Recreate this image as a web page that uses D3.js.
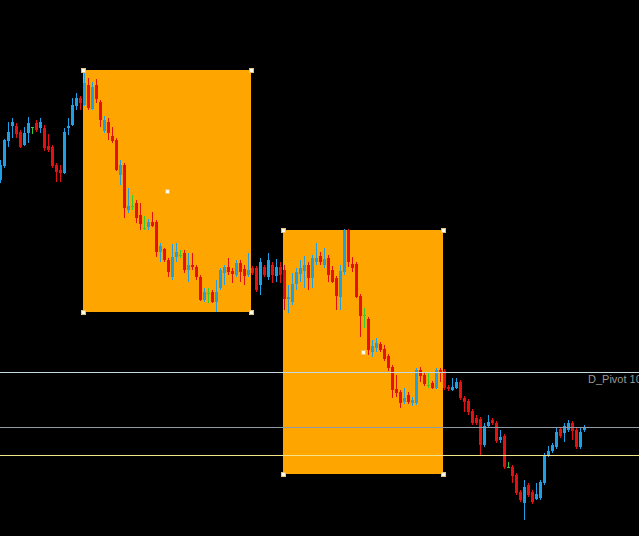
<!DOCTYPE html>
<html>
<head>
	<style>
		body { margin:0; background:#000; overflow:hidden; }
		svg { display:block; }
	</style>
	<script src="https://cdn.jsdelivr.net/npm/d3@7"></script>
</head>
<body>
	<div id="content"></div>
	<script>
		// bar data, price
		var opens  = [1220,1234,1259,1274,1274,1268,1255,1267,1273,1277,1272,1272,1254,1253,1235,1230,1227,1272,1275,1294,
			1302,1295,1315,1291,1315,1298,1269,1278,1264,1260,1225,1235,1190,1194,1197,1185,1172,1173,1178,1178,
			1148,1151,1140,1123,1143,1145,1147,1130,1135,1133,1123,1100,1107,1108,1098,1112,1127,1133,1129,1125,
			1137,1131,1125,1132,1132,1115,1133,1123,1135,1124,1133,1130,1101,1098,1116,1126,1129,1135,1122,1138,
			1144,1135,1142,1130,1122,1103,1128,1170,1136,1136,1104,1085,1081,1048,1052,1056,1051,1044,1033,1011,
			1008,998,1005,997,997,1030,1025,1015,1017,1012,1030,1029,1013,1010,1012,1018,1002,999,989,982,
			981,955,974,980,977,960,964,933,933,925,908,897,915,908,901,902,917,945,949,953,
			971,967,970,977,970,953,970];
		var highs  = [1240,1261,1278,1282,1277,1270,1273,1283,1273,1280,1282,1275,1266,1255,1237,1235,1272,1282,1302,1307,
			1304,1328,1322,1318,1321,1300,1284,1282,1273,1262,1240,1237,1212,1205,1200,1197,1184,1181,1188,1180,
			1157,1152,1142,1156,1157,1150,1150,1147,1147,1135,1125,1112,1112,1110,1120,1132,1135,1142,1132,1140,
			1140,1135,1147,1134,1134,1142,1135,1147,1138,1141,1138,1135,1115,1127,1132,1140,1144,1138,1145,1157,
			1148,1152,1145,1134,1124,1135,1171,1171,1143,1138,1106,1092,1083,1060,1062,1058,1055,1046,1035,1025,
			1010,1012,1008,1003,1032,1033,1028,1028,1019,1032,1032,1031,1015,1022,1022,1020,1004,1001,991,985,
			983,977,985,982,979,970,966,938,935,927,910,920,917,910,917,920,947,954,957,972,
			972,977,980,979,972,972,975];
		var lows   = [1217,1232,1253,1262,1262,1252,1254,1257,1266,1268,1267,1249,1248,1232,1218,1218,1226,1265,1274,1290,
			1290,1294,1290,1290,1297,1273,1267,1260,1257,1229,1215,1182,1187,1190,1177,1170,1170,1170,1173,1143,
			1138,1138,1123,1120,1138,1142,1127,1118,1130,1120,1099,1098,1097,1097,1088,1110,1115,1125,1117,1123,
			1118,1115,1123,1125,1108,1105,1123,1120,1117,1118,1117,1090,1087,1095,1110,1118,1112,1110,1112,1135,
			1135,1132,1118,1117,1090,1090,1125,1133,1128,1102,1063,1072,1045,1043,1048,1048,1039,1029,1002,1003,
			992,996,996,994,995,1018,1014,1012,1011,1011,1018,1010,1009,1009,1011,1000,988,985,975,975,
			945,953,972,975,957,957,931,933,917,905,898,880,903,896,900,900,915,943,947,951,
			962,958,968,960,951,951,968];
		var closes = [1235,1260,1268,1278,1266,1253,1267,1277,1273,1270,1278,1252,1250,1234,1228,1227,1268,1274,1295,1302,
			1297,1317,1292,1313,1301,1280,1280,1267,1259,1230,1235,1192,1194,1194,1182,1176,1172,1178,1174,1148,
			1154,1140,1128,1143,1148,1145,1130,1135,1133,1123,1100,1108,1107,1098,1108,1130,1133,1128,1126,1137,
			1128,1124,1130,1127,1110,1138,1125,1140,1125,1133,1125,1101,1103,1116,1128,1132,1135,1122,1142,1142,
			1138,1141,1125,1118,1104,1129,1170,1138,1132,1103,1084,1085,1050,1054,1057,1050,1041,1032,1010,1007,
			997,1002,998,1000,1030,1024,1016,1015,1012,1030,1027,1012,1011,1013,1018,1002,998,988,977,977,
			955,974,978,977,959,963,933,933,924,907,900,913,905,898,906,918,945,949,955,968,
			964,974,977,969,953,968,973];

		// horizontal levels and the two boxes (bar position, price)
		var levelPrices = [1028, 973, 945];
		var levelColors = ["#c4dae2", "#8f9ca6", "#f2e489"];
		var boxStart = [20.75, 70.75];
		var boxEnd   = [62.75, 110.75];
		var boxTop   = [1330, 1170];
		var boxBottom= [1088, 926];
		var pivotLabel = "D_Pivot 10";

		const svgWidth = 639;
		const svgHeight = 536;
		const svg = d3.select("#content")
			.append("svg")
			.attr("width", svgWidth)
			.attr("height", svgHeight)
			.style("background", "#000")
			.attr("shape-rendering", "crispEdges");

		var xScale = d3.scaleLinear().domain([0, 159.75]).range([0, svgWidth]);
		var yScale = d3.scaleLinear().domain([864, 1400]).range([svgHeight, 0]);

		var bars = d3.range(opens.length).map(function(i) {
			return { i: i, o: opens[i], h: highs[i], l: lows[i], c: closes[i] };
		});
		var boxes = d3.range(boxStart.length).map(function(k) {
			return { x0: boxStart[k], x1: boxEnd[k], top: boxTop[k], bottom: boxBottom[k] };
		});

		// boxes go underneath
		svg.selectAll("rect.box")
			.data(boxes)
			.enter()
			.append("rect")
			.attr("class", "box")
			.attr("x", d => xScale(d.x0))
			.attr("y", d => yScale(d.top))
			.attr("width", d => xScale(d.x1) - xScale(d.x0))
			.attr("height", d => yScale(d.bottom) - yScale(d.top))
			.attr("fill", "#ffa500");

		function colorOf(d) {
			if (d.o === d.c) return "#32cd32";
			return d.c > d.o ? "#1e9fe6" : "#e51010";
		}

		var candle = svg.selectAll("g.bar")
			.data(bars)
			.enter()
			.append("g")
			.attr("class", "bar");

		candle.append("line")
			.attr("x1", d => Math.round(xScale(d.i)) + 0.5)
			.attr("x2", d => Math.round(xScale(d.i)) + 0.5)
			.attr("y1", d => yScale(d.h))
			.attr("y2", d => yScale(d.l))
			.attr("stroke", colorOf)
			.attr("stroke-width", 1);

		candle.append("rect")
			.attr("x", d => Math.round(xScale(d.i)) - 1)
			.attr("y", d => yScale(Math.max(d.o, d.c)))
			.attr("width", 3)
			.attr("height", d => Math.max(1, Math.abs(yScale(d.o) - yScale(d.c))))
			.attr("fill", colorOf);

		// pivot levels
		svg.selectAll("line.level")
			.data(levelPrices)
			.enter()
			.append("line")
			.attr("class", "level")
			.attr("x1", 0)
			.attr("x2", svgWidth)
			.attr("y1", d => Math.round(yScale(d)) + 0.5)
			.attr("y2", d => Math.round(yScale(d)) + 0.5)
			.attr("stroke", (d, i) => levelColors[i])
			.attr("stroke-width", 1);

		svg.append("text")
			.attr("x", 588)
			.attr("y", yScale(levelPrices[0]) + 11)
			.attr("fill", "#9a9a9a")
			.style("font-family", "Arial, 'Liberation Sans', sans-serif")
			.style("font-size", "11px")
			.text(pivotLabel);

		// selection handles: corners and middle
		var handles = [];
		boxes.forEach(function(b) {
			handles.push([b.x0, b.top], [b.x1, b.top], [b.x0, b.bottom], [b.x1, b.bottom],
				[(b.x0 + b.x1) / 2, (b.top + b.bottom) / 2]);
		});
		svg.selectAll("rect.handle")
			.data(handles)
			.enter()
			.append("rect")
			.attr("class", "handle")
			.attr("x", d => Math.round(xScale(d[0])) - 2)
			.attr("y", d => Math.round(yScale(d[1])) - 2)
			.attr("width", 4)
			.attr("height", 4)
			.attr("fill", "#fffbe6")
			.attr("stroke", "#e8c27a")
			.attr("stroke-width", 1);
	</script>
</body>
</html>
